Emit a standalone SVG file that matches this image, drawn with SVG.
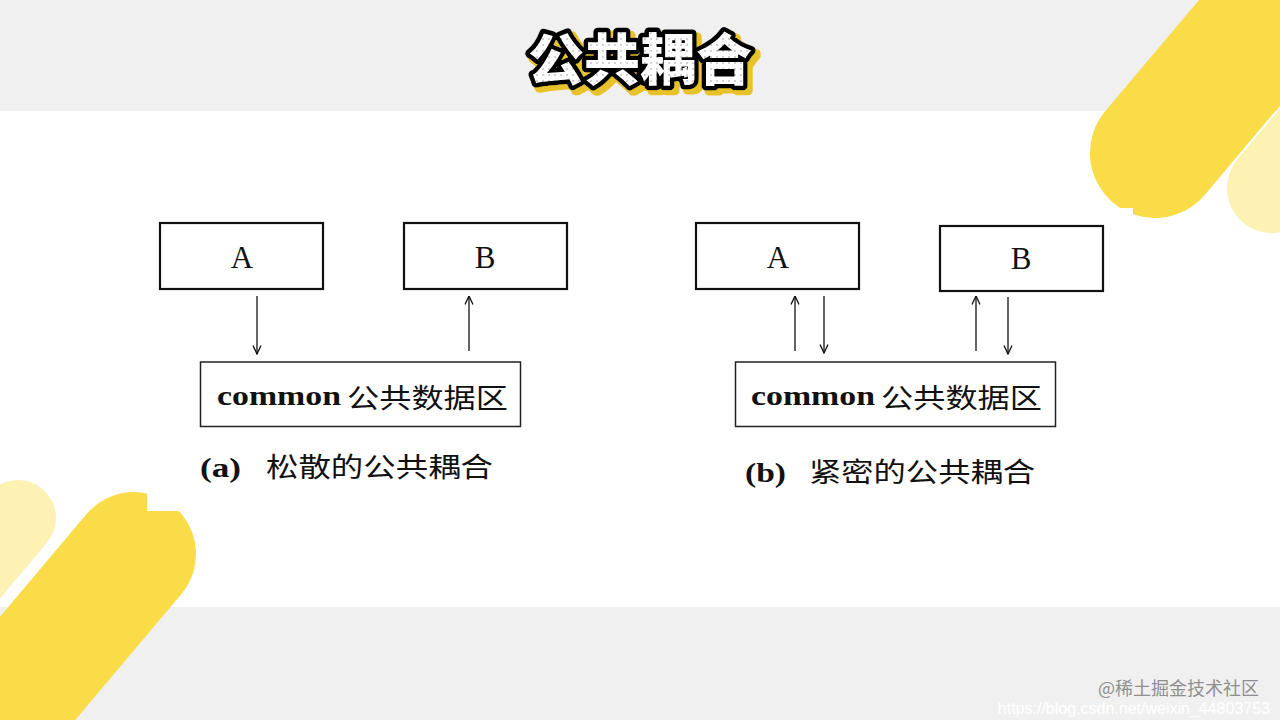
<svg xmlns="http://www.w3.org/2000/svg" width="1280" height="720" viewBox="0 0 1280 720">
<style>
.box{fill:#fff;stroke:#111;stroke-width:2.2}
.cbox{fill:#fff;stroke:#222;stroke-width:1.5}
.lbl{font-family:"Liberation Serif","Noto Sans CJK SC",serif;font-size:31px;fill:#111;text-anchor:middle}
.en{font-family:"Liberation Serif",serif;font-size:28px;font-weight:bold;fill:#111}
.zh{font-family:"Noto Sans CJK SC",sans-serif;font-size:27px;fill:#111}
.conn{stroke:#111;stroke-width:1.3;fill:none;marker-end:url(#arr)}
.title{font-family:"Noto Sans CJK SC",sans-serif;font-weight:900;font-size:56px;text-anchor:middle}
</style>
<defs>
<marker id="arr" viewBox="0 0 10 10" refX="9.5" refY="5" markerWidth="10" markerHeight="10" markerUnits="userSpaceOnUse" orient="auto">
<path d="M1,1 L9.5,5 L1,9" fill="none" stroke="#111" stroke-width="1.3"/>
</marker>
<pattern id="dots" width="6" height="6" patternUnits="userSpaceOnUse">
<rect width="6" height="6" fill="#fff"/>
<circle cx="3" cy="3" r="0.8" fill="#999"/>
</pattern>
<filter id="shadow" x="-10%" y="-20%" width="120%" height="150%">
<feMorphology in="SourceAlpha" operator="dilate" radius="1" result="d"/>
<feOffset in="d" dx="4" dy="4" result="o"/>
<feFlood flood-color="#e8c22c"/>
<feComposite in2="o" operator="in" result="s"/>
<feMerge><feMergeNode in="s"/><feMergeNode in="SourceGraphic"/></feMerge>
</filter>
</defs>
<!-- background -->
<rect x="0" y="0" width="1280" height="720" fill="#fff"/>
<rect x="0" y="0" width="1280" height="111" fill="#f0f0f0"/>
<rect x="0" y="607" width="1280" height="113" fill="#f0f0f0"/>
<!-- decorative shapes -->
<g id="deco">
<line x1="1272" y1="188" x2="1420" y2="12" stroke="#fdf1b4" stroke-width="90" stroke-linecap="round"/>
<line x1="1155" y1="153" x2="1360" y2="-90" stroke="#f9dc48" stroke-width="130" stroke-linecap="round"/>
<rect x="1085" y="208" width="48" height="20" fill="#fff"/>
<line x1="18" y1="518" x2="-120" y2="682" stroke="#fdf1b4" stroke-width="76" stroke-linecap="round"/>
<line x1="134" y1="554" x2="-80" y2="808" stroke="#f9dc48" stroke-width="124" stroke-linecap="round"/>
<rect x="147" y="485" width="40" height="26" fill="#fff"/>
</g>
<!-- title -->
<g id="title">
<text class="title" x="640" y="80" fill="url(#dots)" stroke="#000" stroke-width="9" stroke-linejoin="round" paint-order="stroke" filter="url(#shadow)">公共耦合</text>
</g>
<!-- diagram (a) -->
<g id="a-A"><rect class="box" x="160" y="223" width="163" height="66"/><text class="lbl" x="242" y="268">A</text></g>
<g id="a-B"><rect class="box" x="404" y="223" width="163" height="66"/><text class="lbl" x="485" y="268">B</text></g>
<g id="a-common"><rect class="cbox" x="200.5" y="362" width="320" height="64.5"/>
<text class="en" x="217" y="405" textLength="124" lengthAdjust="spacingAndGlyphs">common</text>
<text class="zh" x="347" y="408" textLength="161" lengthAdjust="spacingAndGlyphs">公共数据区</text></g>
<g id="a-caption">
<text class="en" x="200" y="477" textLength="41" lengthAdjust="spacingAndGlyphs">(a)</text>
<text class="zh" x="266" y="477" textLength="227" lengthAdjust="spacingAndGlyphs">松散的公共耦合</text></g>
<!-- diagram (b) -->
<g id="b-A"><rect class="box" x="696" y="223" width="163" height="66"/><text class="lbl" x="778" y="268">A</text></g>
<g id="b-B"><rect class="box" x="940" y="226" width="163" height="65"/><text class="lbl" x="1021" y="269">B</text></g>
<g id="b-common"><rect class="cbox" x="735.5" y="362" width="320" height="64.5"/>
<text class="en" x="751" y="405" textLength="124" lengthAdjust="spacingAndGlyphs">common</text>
<text class="zh" x="881" y="408" textLength="161" lengthAdjust="spacingAndGlyphs">公共数据区</text></g>
<g id="b-caption">
<text class="en" x="745" y="482" textLength="41" lengthAdjust="spacingAndGlyphs">(b)</text>
<text class="zh" x="809" y="482" textLength="226" lengthAdjust="spacingAndGlyphs">紧密的公共耦合</text></g>
<!-- connectors -->
<g id="connectors">
<line class="conn" x1="257" y1="296" x2="257" y2="354"/>
<line class="conn" x1="469" y1="351" x2="469" y2="296"/>
<line class="conn" x1="795" y1="351" x2="795" y2="296"/>
<line class="conn" x1="824" y1="296" x2="824" y2="353"/>
<line class="conn" x1="976" y1="351" x2="976" y2="296"/>
<line class="conn" x1="1008" y1="297" x2="1008" y2="354"/>
</g>
<!-- watermark -->
<g id="watermark">
<text x="1270" y="714" font-family="Liberation Sans,sans-serif" font-size="16" fill="#fff" text-anchor="end">https://blog.csdn.net/weixin_44803753</text>
<text x="1259" y="695" font-family="Noto Sans CJK SC,sans-serif" font-size="18" fill="#8f8f8f" text-anchor="end">@稀土掘金技术社区</text>
</g>
</svg>
